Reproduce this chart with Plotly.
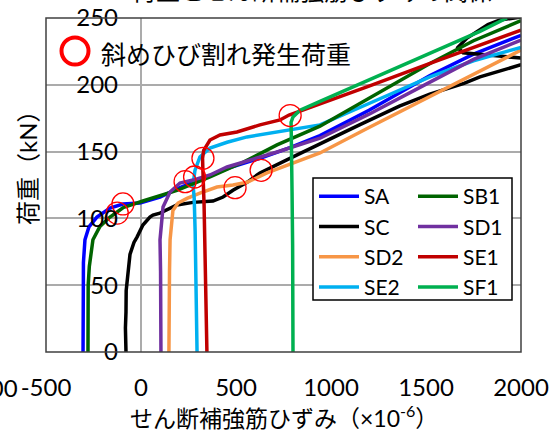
import plotly.graph_objects as go

# 荷重 (kN) vs shear reinforcement strain (x10^-6) for each specimen
SA_x = [-305, -305, -303, -295, -274, -232, -163, -95, -5, 100, 205, 310, 468, 626, 784, 942, 1200, 1521, 1750, 2000]
SA_y = [0, 40, 67, 84, 93.6, 101, 107.8, 110.8, 111.5, 116, 123, 129, 138, 145, 153, 162, 181, 207, 223, 237]

SB1_x = [-279, -279, -278, -272, -253, -216, -163, -95, -21, 10, 189, 363, 537, 716, 942, 1200, 1521, 1750, 2000]
SB1_y = [0, 30, 50, 64, 84, 94, 101, 108, 112, 113, 121, 131, 142, 155, 169, 190, 216, 233, 248]

SC_x = [-79, -82, -79, -78, -58, -37, -21, 10, 47, 63, 100, 189, 274, 379, 432, 484, 558, 626, 800, 942,
        1150, 1360, 1520, 1700, 1784, 2000, 2060, 2000, 1695, 1680, 1668, 1716, 1826, 1889, 2000]
SC_y = [0, 18, 30, 46, 73, 82, 86, 95, 101, 102.5, 104, 110, 112, 113, 116, 121, 127, 134, 146, 156,
        170, 184, 193, 201, 206, 215, 218, 220, 224, 226, 228, 235, 245, 248.5, 250.7]

SD1_x = [105, 105, 103, 100, 116, 153, 205, 274, 363, 453, 537, 716, 942, 1200, 1521, 1750, 2000]
SD1_y = [0, 30, 60, 84, 108.5, 119.8, 126.5, 128.7, 132.5, 138.5, 142, 149.7, 160, 178, 202, 219, 233.5]

SD2_x = [147, 147, 150, 153, 168, 195, 242, 310, 400, 484, 558, 663, 800, 942, 1200, 1521, 1695, 2000]
SD2_y = [0, 30, 60, 84, 106, 111.5, 115, 119, 123.5, 125, 127, 134, 141.5, 149, 168, 191, 203.6, 226]

SE1_x = [347, 344, 338, 332, 326, 324, 330, 363, 416, 505, 626, 732, 779, 942, 1200, 1521, 1750, 2000]
SE1_y = [0, 30, 70, 110, 135, 145, 151, 158.7, 162.4, 164.7, 170, 173.7, 177.4, 185.6, 199, 216, 228, 241]

SE2_x = [295, 293, 290, 285, 280, 274, 284, 310, 363, 453, 558, 716, 942, 1200, 1521, 1750, 2000]
SE2_y = [0, 30, 60, 90, 115, 125, 136, 146, 152.7, 157, 161, 164.7, 170, 186, 206, 218, 228]

SF1_x = [800, 800, 798, 795, 792, 789, 790, 800, 837, 942, 1153, 1363, 1521, 1784, 1926]
SF1_y = [0, 40, 80, 120, 150, 165, 172, 176, 181, 187.6, 200.8, 214, 224, 240, 250]

# 斜めひび割れ発生荷重 (diagonal cracking load) points
crack_x = [-95, -125, 232, 282, 326, 495, 632, 785]
crack_y = [110.8, 104, 127.5, 131, 145, 123, 136, 177]

series = [
    ("SA", SA_x, SA_y, "#0000FF", "legend"),
    ("SC", SC_x, SC_y, "#000000", "legend"),
    ("SD2", SD2_x, SD2_y, "#F79646", "legend"),
    ("SE2", SE2_x, SE2_y, "#00B0F0", "legend"),
    ("SB1", SB1_x, SB1_y, "#006400", "legend2"),
    ("SD1", SD1_x, SD1_y, "#7030A0", "legend2"),
    ("SE1", SE1_x, SE1_y, "#C00000", "legend2"),
    ("SF1", SF1_x, SF1_y, "#00B050", "legend2"),
]

x_ticks = [-500, 0, 500, 1000, 1500, 2000]
y_ticks = [0, 50, 100, 150, 200, 250]

FONT = "Lato, 'Noto Sans CJK JP', sans-serif"
JP = "'Noto Sans CJK JP', sans-serif"

fig = go.Figure()
for name, xs, ys, color, lg in series:
    fig.add_trace(go.Scatter(
        x=xs, y=ys, mode="lines", name=name, legend=lg,
        line=dict(color=color, width=3.5),
    ))

fig.add_trace(go.Scatter(
    x=crack_x, y=crack_y, mode="markers", showlegend=False,
    marker=dict(symbol="circle-open", size=22, color="#FF0000", line=dict(width=1.3, color="#FF0000")),
))

W, H = 558, 439
L, R, T, B = 46, 37, 18, 87
pw, ph = W - L - R, H - T - B


def px(xpix):
    return (xpix - L) / pw


def py(ypix):
    return (H - B - ypix) / ph


legend_style = dict(xanchor="left", yanchor="top", bgcolor="rgba(0,0,0,0)", borderwidth=0,
                    font=dict(size=21, family=FONT), itemwidth=40, tracegroupgap=0)

fig.update_layout(
    width=W, height=H,
    margin=dict(l=L, r=R, t=T, b=B, pad=0, autoexpand=False),
    paper_bgcolor="white", plot_bgcolor="white",
    font=dict(family=FONT, color="black"),
    showlegend=True,
    legend=dict(x=px(314), y=py(176), **legend_style),
    legend2=dict(x=px(413), y=py(176), **legend_style),
    xaxis=dict(range=[-500, 2000], tickvals=x_ticks, ticktext=[str(v) for v in x_ticks],
               showgrid=False, zeroline=True, zerolinecolor="#ABABAB", zerolinewidth=1.5,
               showline=False, ticks="", tickfont=dict(size=24, family=FONT),
               ticklabelstandoff=19, automargin=False),
    yaxis=dict(range=[0, 250], tickvals=y_ticks, anchor="free", position=px(118),
               showgrid=True, gridcolor="#ABABAB", gridwidth=1.5, zeroline=False,
               showline=False, ticks="", tickfont=dict(size=24, family=FONT), automargin=False),
    shapes=[
        # plot frame
        dict(type="rect", xref="paper", yref="paper", x0=0, x1=1, y0=0, y1=1,
             line=dict(color="#404040", width=1.5), layer="above"),
        # legend box
        dict(type="rect", xref="paper", yref="paper", x0=px(313), x1=px(512), y0=py(300), y1=py(178),
             line=dict(color="#000000", width=1.5), fillcolor="white", layer="above"),
        # cracking-load key symbol
        dict(type="circle", xref="paper", yref="paper",
             x0=px(75 - 13.5), x1=px(75 + 13.5), y0=py(51 + 13.5), y1=py(51 - 13.5),
             line=dict(color="#FF0000", width=4), layer="above"),
    ],
    annotations=[
        dict(text="斜めひび割れ発生荷重", xref="paper", yref="paper", x=px(99), y=py(53),
             xanchor="left", yanchor="middle", showarrow=False, font=dict(size=25, family=JP)),
        dict(text="せん断補強筋ひずみ（×10<sup>-6</sup>）", xref="paper", yref="paper", x=0.5, y=py(416),
             xanchor="center", yanchor="middle", showarrow=False, font=dict(size=23, family=FONT)),
        dict(text="荷重（kN）", xref="paper", yref="paper", x=px(28), y=py(162), textangle=-90,
             xanchor="center", yanchor="middle", showarrow=False, font=dict(size=24, family=FONT)),
        dict(text="-1000", xref="paper", yref="paper", x=px(19.5), y=py(387),
             xanchor="right", yanchor="middle", showarrow=False, font=dict(size=24, family=FONT)),
        dict(text="荷重とせん断補強筋ひずみの関係", xref="paper", yref="paper", x=px(312), y=py(9),
             xanchor="center", yanchor="bottom", showarrow=False, font=dict(size=24, family=JP)),
    ],
)

fig.write_html("out.html")
